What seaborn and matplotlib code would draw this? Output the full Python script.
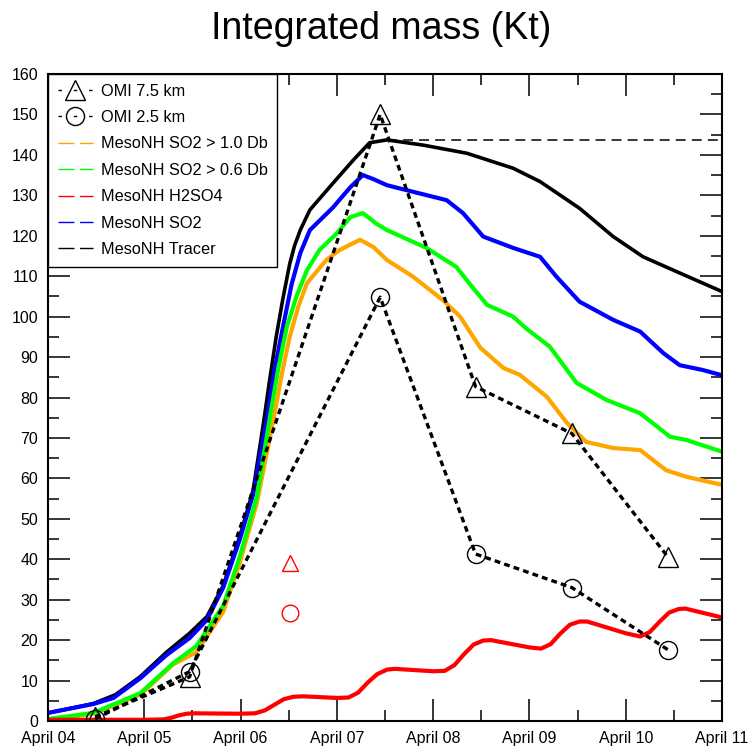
import numpy as np
import pandas as pd
import matplotlib
matplotlib.use("Agg")
import matplotlib.pyplot as plt
import seaborn as sns
from matplotlib.lines import Line2D

# ---------------- data (days since April 04 00:00) ----------------
day_labels = ["April 04", "April 05", "April 06", "April 07",
              "April 08", "April 09", "April 10", "April 11"]

t_tracer = [0.0, 0.25, 0.47, 0.7, 0.96, 1.23, 1.47, 1.65, 1.82, 1.99, 2.13, 2.24,
            2.3, 2.37, 2.44, 2.51, 2.56, 2.62, 2.72, 2.96, 3.17, 3.34, 3.52, 3.9, 4.35,
            4.83, 5.11, 5.52, 5.87, 6.18, 6.56, 7.0]
tracer = [2.0, 3.2, 4.3, 6.5, 11.0, 17.0, 21.7, 25.8, 33.5, 45.5, 57.0, 74.0,
          84.0, 95.0, 104.5, 113.0, 117.5, 121.4, 126.4, 133.0, 138.7, 143.0, 143.7, 142.4, 140.4,
          136.7, 133.4, 126.8, 119.8, 114.8, 110.8, 106.2]

t_so2 = [0.0, 0.47, 0.68, 0.96, 1.23, 1.47, 1.65, 1.82, 1.99, 2.13, 2.27, 2.35, 2.44,
         2.53, 2.62, 2.72, 2.96, 3.14, 3.27, 3.38, 3.52, 3.72, 4.14, 4.31, 4.52, 4.83,
         5.11, 5.28, 5.52, 5.87, 6.15, 6.39, 6.56, 6.8, 7.0]
so2 = [2.0, 4.2, 5.7, 10.6, 16.3, 20.5, 25.0, 33.0, 44.8, 56.0, 74.4, 86.5, 97.4,
       108.0, 115.7, 121.4, 127.0, 132.0, 135.0, 134.0, 132.5, 131.3, 128.8, 125.6, 119.8, 117.0,
       114.8, 109.9, 103.7, 99.2, 96.3, 91.0, 88.0, 86.8, 85.5]

t_so2_06 = [0.0, 0.47, 0.96, 1.3, 1.54, 1.82, 1.99, 2.17, 2.3, 2.39, 2.48, 2.58, 2.69, 2.82,
            3.0, 3.14, 3.27, 3.41, 3.52, 3.93, 4.24, 4.4, 4.56, 4.83, 4.97, 5.21,
            5.49, 5.8, 6.15, 6.46, 6.63, 7.0]
so2_06 = [0.5, 2.0, 6.9, 14.3, 18.5, 28.5, 40.5, 55.5, 74.4, 87.0, 97.4, 105.0, 111.5, 116.5,
          120.6, 124.6, 125.6, 123.0, 121.4, 117.0, 112.3, 107.5, 102.9, 100.0, 97.0, 92.6,
          83.6, 79.4, 76.1, 70.3, 69.5, 66.6]

t_so2_10 = [0.0, 0.47, 0.96, 1.3, 1.54, 1.82, 1.99, 2.17, 2.34, 2.43, 2.51, 2.6, 2.69, 2.89,
            3.03, 3.24, 3.38, 3.52, 3.79, 4.1, 4.28, 4.49, 4.73, 4.9, 5.18, 5.39,
            5.59, 5.87, 6.15, 6.42, 6.63, 7.0]
so2_10 = [0.3, 1.8, 6.5, 14.0, 17.0, 27.0, 39.0, 54.0, 74.4, 86.0, 95.0, 102.5, 108.3, 114.0,
          116.5, 119.0, 117.2, 114.0, 109.9, 104.1, 100.0, 92.3, 87.3, 85.6, 80.2, 73.7,
          69.0, 67.5, 67.0, 62.0, 60.4, 58.4]

t_h2so4 = [0.0, 0.5, 1.0, 1.2, 1.28, 1.36, 1.44, 1.52, 2.0, 2.15, 2.25, 2.35, 2.45, 2.55,
           2.65, 3.0, 3.12, 3.22, 3.32, 3.42, 3.52, 3.6, 4.0, 4.12, 4.22, 4.32, 4.42,
           4.52, 4.6, 5.0, 5.12, 5.22, 5.32, 5.42, 5.52, 5.6, 6.0, 6.15, 6.25, 6.35,
           6.45, 6.55, 6.62, 7.0]
h2so4 = [0.3, 0.3, 0.3, 0.4, 0.8, 1.4, 1.8, 1.9, 1.8, 1.9, 2.6, 4.0, 5.4, 6.0,
         6.1, 5.7, 5.8, 7.0, 9.5, 11.6, 12.7, 12.9, 12.3, 12.4, 13.8, 16.5, 18.9,
         19.9, 20.0, 18.2, 17.9, 19.0, 21.6, 23.8, 24.6, 24.6, 21.7, 20.9, 22.0, 24.5,
         26.8, 27.7, 27.8, 25.6]

t_omi = [0.49, 1.47, 3.45, 4.44, 5.44, 6.44]
omi_75 = [1.0, 10.9, 150.0, 82.7, 71.1, 40.5]
omi_25 = [0.5, 12.2, 104.8, 41.3, 33.0, 17.6]

t_red = [2.51]
red_tri = [39.0]
red_circ = [26.6]

# ---------------- style ----------------
sns.set_style("ticks")
plt.rcParams['font.family'] = ['Liberation Sans', 'DejaVu Sans']
plt.rcParams['text.color'] = 'black'
plt.rcParams['xtick.color'] = 'black'
plt.rcParams['ytick.color'] = 'black'
plt.rcParams['lines.solid_joinstyle'] = 'round'

fig = plt.figure(figsize=(7.52, 7.49), dpi=100)
ax = fig.add_axes([48/752, 1-721/749, (722-48)/752, (721-74)/749])

lw_c = 3.0
sns.lineplot(x=t_tracer, y=tracer, ax=ax, color="black", lw=2.6, sort=False)
sns.lineplot(x=t_so2, y=so2, ax=ax, color="#0000FF", lw=lw_c, sort=False)
sns.lineplot(x=t_so2_10, y=so2_10, ax=ax, color="#FFA500", lw=lw_c, sort=False)
sns.lineplot(x=t_so2_06, y=so2_06, ax=ax, color="#00FF00", lw=lw_c, sort=False)
sns.lineplot(x=t_h2so4, y=h2so4, ax=ax, color="#FF0000", lw=lw_c, sort=False)

# horizontal dashed line at tracer maximum
imax = int(np.argmax(tracer))
ax.hlines(tracer[imax], t_tracer[imax], 7, colors="black", lw=1.1,
          linestyles=[(0, (6.5, 4))])

dot = (0, (1.75, 1.25))
sns.lineplot(x=t_omi, y=omi_75, ax=ax, color="black", lw=2.4, linestyle=dot,
             marker="^", markersize=14.5, mfc="none", mec="black", mew=1.0, sort=False)
sns.lineplot(x=t_omi, y=omi_25, ax=ax, color="black", lw=2.4, linestyle=dot,
             marker="o", markersize=13, mfc="none", mec="black", mew=1.0, sort=False)

sns.lineplot(x=t_red, y=red_tri, ax=ax, color="red", linestyle="none",
             marker="^", markersize=12, mfc="none", mec="red", mew=1.0)
sns.lineplot(x=t_red, y=red_circ, ax=ax, color="red", linestyle="none",
             marker="o", markersize=12, mfc="none", mec="red", mew=1.0)

# ---------------- axes ----------------
ax.set_xlim(0, 7)
ax.set_ylim(0, 160)
ax.set_xticks(range(8))
ax.set_xticklabels(day_labels)
ax.set_xticks(np.arange(0.5, 7, 1.0), minor=True)
ax.set_yticks(range(0, 161, 10))
ax.set_yticks(range(5, 160, 10), minor=True)
ax.tick_params(which="both", direction="in", top=True, right=True, width=1.1,
               labelsize=11.5, colors="black", labelcolor="black")
ax.tick_params(which="major", length=16, pad=7)
ax.tick_params(which="minor", length=8)
for s in ax.spines.values():
    s.set_linewidth(1.5)
    s.set_color("black")
ax.set_xlabel("")
ax.set_ylabel("")

# ---------------- legend ----------------
leg_dash = (0, (2.5, 8.5))
mdash = (0, (11.5, 4))
handles = [
    Line2D([], [], color="black", lw=1, linestyle=leg_dash, marker="^",
           markersize=14, mfc="none", mec="black", mew=1),
    Line2D([], [], color="black", lw=1, linestyle=leg_dash, marker="o",
           markersize=13, mfc="none", mec="black", mew=1),
    Line2D([], [], color="#FFA500", lw=1, linestyle=mdash),
    Line2D([], [], color="#00FF00", lw=1, linestyle=mdash),
    Line2D([], [], color="#FF0000", lw=1, linestyle=mdash),
    Line2D([], [], color="#0000FF", lw=1, linestyle=mdash),
    Line2D([], [], color="black", lw=1, linestyle=mdash),
]
labels = ["OMI 7.5 km", "OMI 2.5 km", "MesoNH SO2 > 1.0 Db", "MesoNH SO2 > 0.6 Db",
          "MesoNH H2SO4", "MesoNH SO2", "MesoNH Tracer"]
leg = ax.legend(handles, labels, loc="upper left", bbox_to_anchor=(0, 1),
                borderaxespad=0, frameon=True, fancybox=False, edgecolor="black",
                framealpha=1, fontsize=11.7, handlelength=2.15, handletextpad=0.5,
                borderpad=0.6, labelspacing=0.7)
leg.get_frame().set_linewidth(1.0)
for txt in leg.get_texts():
    txt.set_color("black")

fig.text(0.507, 1 - 39/749, "Integrated mass (Kt)", ha="center", va="baseline",
         fontsize=27, color="black")

fig.savefig("out.png", dpi=100)
